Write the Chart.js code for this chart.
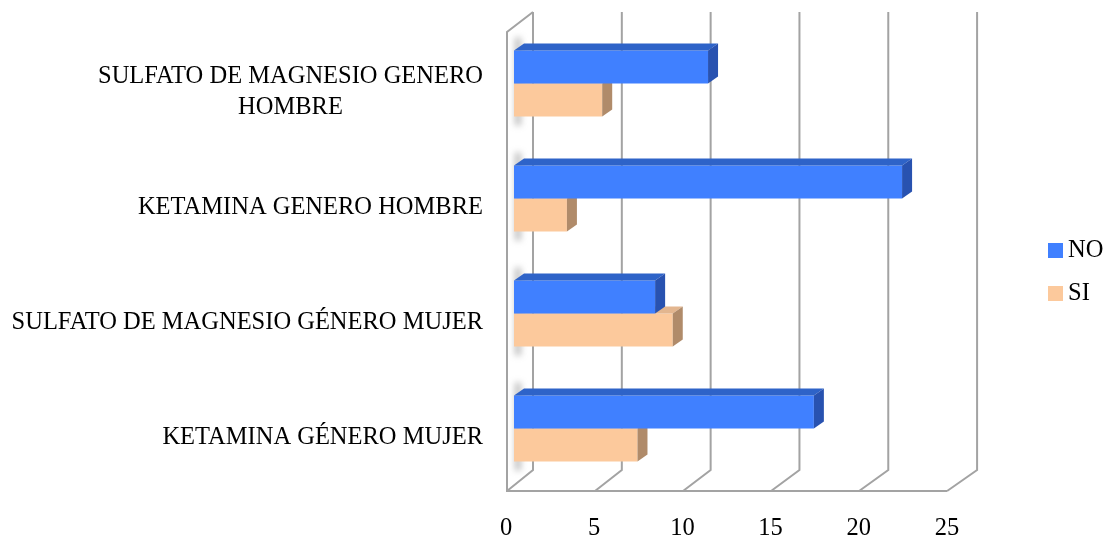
<!DOCTYPE html>
<html>
<head>
<meta charset="utf-8">
<script src="https://cdn.jsdelivr.net/npm/chart.js@4.4.1/dist/chart.umd.min.js"></script>
<style>
  html, body { margin: 0; padding: 0; background: #fff; }
  canvas { display: block; }
</style>
</head>
<body>
<canvas id="barChart" width="1106" height="540"></canvas>
<script>
// Datos
const categorias = [
  ['SULFATO DE MAGNESIO GENERO', 'HOMBRE'],
  'KETAMINA GENERO HOMBRE',
  'SULFATO DE MAGNESIO GÉNERO MUJER',
  'KETAMINA GÉNERO MUJER'
];
const valoresNo = [11, 22, 8, 17];
const valoresSi = [5, 3, 9, 7];
const ticksX = [0, 5, 10, 15, 20, 25];

const fuente = '"Liberation Serif", "Times New Roman", serif';

// colores: frente, tapa, lado
const caras = [
  {frente: '#4080ff', tapa: '#2e63c8', lado: '#2852b0'},
  {frente: '#fcc99c', tapa: '#e3b68f', lado: '#b08b6a'}
];
const PROF_X = 10, PROF_Y = 7;

// Paredes y suelo en perspectiva
const paredes = {
  id: 'paredes',
  beforeDatasetsDraw(chart) {
    const {ctx, chartArea: a, scales: {x, y}} = chart;
    const x0 = x.getPixelForValue(0);
    const atras = v => x0 + 19 + (x.getPixelForValue(v) - x0) * 1.007;
    const frente = v => x0 - 7 + (x.getPixelForValue(v) - x0) * 0.998;
    ctx.save();
    ctx.strokeStyle = '#a3a3a3';
    ctx.lineWidth = 2;
    ctx.beginPath();
    ticksX.forEach(v => {
      ctx.moveTo(atras(v), a.top - 14);
      ctx.lineTo(atras(v), a.bottom - 16);
      ctx.lineTo(frente(v), a.bottom + 5);
    });
    const ultimo = ticksX[ticksX.length - 1];
    ctx.moveTo(frente(ultimo), a.bottom + 5);
    ctx.lineTo(frente(0), a.bottom + 5);
    ctx.lineTo(frente(0), a.top + 6);
    ctx.lineTo(atras(0), a.top - 14);
    ctx.stroke();

    // sombra de las barras sobre la pared izquierda
    ctx.filter = 'blur(3px)';
    ctx.fillStyle = 'rgba(110,110,110,0.45)';
    categorias.forEach((c, i) => {
      const cy = y.getPixelForValue(i);
      ctx.fillRect(x0 + 1, cy - 46, 6, 88);
    });
    ctx.restore();
  },
  afterDatasetDraw(chart, args) {
    const {ctx} = chart;
    const col = caras[args.index];
    ctx.save();
    args.meta.data.forEach(bar => {
      const {x, y, base, height} = bar.getProps(['x', 'y', 'base', 'height'], true);
      const top = y - height / 2, bot = y + height / 2;
      ctx.fillStyle = col.tapa;
      ctx.beginPath();
      ctx.moveTo(base, top);
      ctx.lineTo(x, top);
      ctx.lineTo(x + PROF_X, top - PROF_Y);
      ctx.lineTo(base + PROF_X, top - PROF_Y);
      ctx.closePath();
      ctx.fill();
      ctx.fillStyle = col.lado;
      ctx.beginPath();
      ctx.moveTo(x, top);
      ctx.lineTo(x + PROF_X, top - PROF_Y);
      ctx.lineTo(x + PROF_X, bot - PROF_Y);
      ctx.lineTo(x, bot);
      ctx.closePath();
      ctx.fill();
    });
    ctx.restore();
  },
  afterDraw(chart) {
    const {ctx, chartArea: a, scales: {y}} = chart;
    ctx.save();
    ctx.font = '24.5px ' + fuente;
    ctx.fillStyle = '#000';
    ctx.textBaseline = 'middle';
    ctx.textAlign = 'center';
    // etiquetas de categorias
    const derecha = a.left - 31;
    chart.data.labels.forEach((lab, i) => {
      const lineas = Array.isArray(lab) ? lab : [lab];
      const ancho = Math.max(...lineas.map(l => ctx.measureText(l).width));
      const cx = derecha - ancho / 2;
      const cy = y.getPixelForValue(i) + 9;
      const alto = 31;
      lineas.forEach((l, k) => {
        ctx.fillText(l, cx, cy + (k - (lineas.length - 1) / 2) * alto);
      });
    });
    // leyenda
    ctx.textAlign = 'left';
    chart.data.datasets.forEach((ds, i) => {
      const ly = 250 + i * 43;
      ctx.fillStyle = ds.backgroundColor;
      ctx.fillRect(1048, ly - 7, 15, 15);
      ctx.fillStyle = '#000';
      ctx.fillText(ds.label, 1068, ly + 1);
    });
    ctx.restore();
  }
};

const ctx = document.getElementById('barChart').getContext('2d');
const barChart = new Chart(ctx, {
  type: 'bar',
  data: {
    labels: categorias,
    datasets: [
      {label: 'NO', data: valoresNo, backgroundColor: caras[0].frente},
      {label: 'SI', data: valoresSi, backgroundColor: caras[1].frente}
    ]
  },
  options: {
    indexAxis: 'y',
    responsive: false,
    animation: false,
    categoryPercentage: 0.574,
    barPercentage: 1,
    layout: {padding: {top: 26, right: 151, left: 0, bottom: 0}},
    scales: {
      x: {
        min: 0,
        max: 25,
        afterBuildTicks: s => { s.ticks = ticksX.map(v => ({value: v})); },
        afterFit: s => { s.height = 54; },
        grid: {display: false, drawTicks: false},
        border: {display: false},
        ticks: {
          font: {family: fuente, size: 24.5},
          color: '#000',
          padding: 28,
          labelOffset: -8
        }
      },
      y: {
        afterFit: s => { s.width = 514; },
        grid: {display: false, drawTicks: false},
        border: {display: false},
        ticks: {display: false}
      }
    },
    plugins: {
      legend: {display: false},
      tooltip: {enabled: false}
    }
  },
  plugins: [paredes]
});
</script>
</body>
</html>
